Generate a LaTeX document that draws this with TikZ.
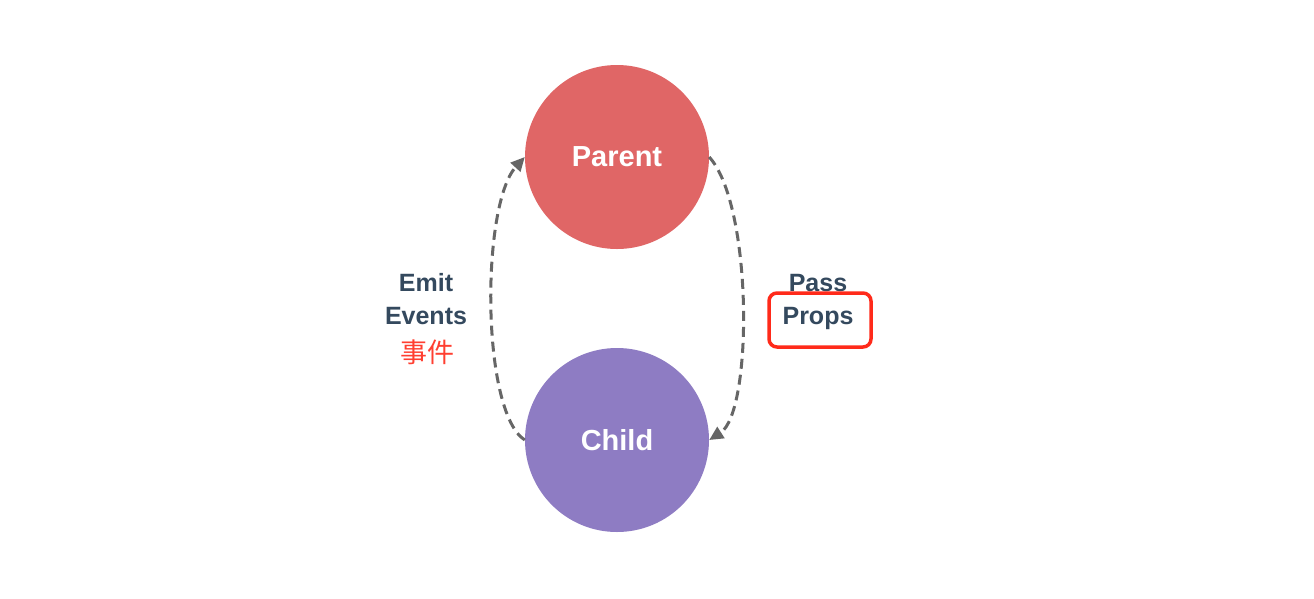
\documentclass[tikz,border=0pt]{standalone}
\usepackage{fontspec}
\setmainfont{Liberation Sans}
\newfontfamily\cjk{Noto Sans CJK SC}
\usetikzlibrary{arrows.meta}
\definecolor{parentred}{HTML}{E06666}
\definecolor{childpurple}{HTML}{8E7CC3}
\definecolor{labeltext}{HTML}{34495E}
\definecolor{arrowgrey}{HTML}{666666}
\definecolor{boxred}{HTML}{FF2A1A}
\tikzset{
  comp/.style={circle, inner sep=0pt, minimum size=184pt, text=white, font=\bfseries\fontsize{29}{32}\selectfont},
  lbl/.style={text=labeltext, font=\bfseries\fontsize{25}{33}\selectfont, align=center, inner sep=0pt},
  flow/.style={draw=arrowgrey, line width=3pt, dash pattern=on 10pt off 6pt, -{Triangle[length=14pt,width=13pt]}},
  hlbox/.style={draw=boxred, line width=3.5pt, rounded corners=8pt, minimum width=102pt, minimum height=54pt, inner sep=0pt}
}
\begin{document}
\begin{tikzpicture}[x=1pt,y=-1pt]
\useasboundingbox (0,0) rectangle (1314,598);
\fill[white] (0,0) rectangle (1314,598);
\node[comp, fill=parentred] (parent) at (617,157) {Parent};
\node[comp, fill=childpurple] (child) at (617,440) {Child};
\draw[flow] (child.west) .. controls (481,412) and (481,205) .. (parent.west);
\draw[flow] (parent.east) .. controls (753,205) and (753,412) .. (child.east);
\node[lbl] (emit) at (426,299) {Emit\\Events};
\node[text=boxred!90!white, font=\cjk\fontsize{27}{30}\selectfont, inner sep=0pt] (shijian) at (427,352) {事件};
\node[lbl] (pass) at (818,302) {Pass\\Props};
\node[hlbox] (propsbox) at (820,320) {};
\end{tikzpicture}
\end{document}
